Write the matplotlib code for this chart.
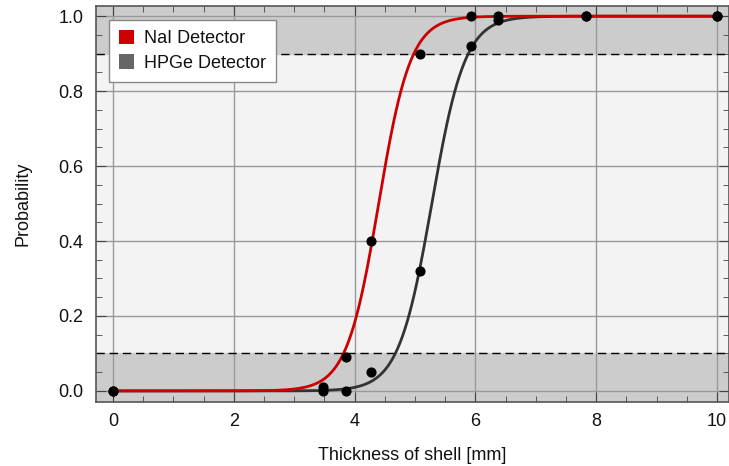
import numpy as np
import matplotlib.pyplot as plt
from matplotlib.patches import Patch

# measured detection probabilities vs shell thickness
thickness = [0.0, 3.47, 3.86, 4.27, 5.08, 5.93, 6.38, 7.83, 10.0]
p_nai = [0.0, 0.01, 0.09, 0.40, 0.90, 1.0, 1.0, 1.0, 1.0]
p_hpge = [0.0, 0.0, 0.0, 0.05, 0.32, 0.92, 0.99, 1.0, 1.0]

labels = ['NaI Detector', 'HPGe Detector']
colors = ['#cc0000', '#333333']
patch_colors = ['#cc0000', '#666666']


def logistic(x, x0, s):
    return 1.0 / (1.0 + np.exp(-(x - x0) / s))


def fit_logistic(x, y):
    # brute force least squares fit
    x = np.asarray(x)
    y = np.asarray(y)
    best = None
    for x0 in np.linspace(3.5, 6.5, 301):
        for s in np.linspace(0.05, 1.0, 191):
            err = np.sum((logistic(x, x0, s) - y) ** 2)
            if best is None or err < best[0]:
                best = (err, x0, s)
    return best[1], best[2]


plt.rcParams['font.family'] = ['Liberation Sans', 'DejaVu Sans']
plt.rcParams['font.size'] = 13

fig = plt.figure(figsize=(7.29, 4.66), dpi=100)
ax = fig.add_axes([0.1317, 0.137, 0.8683, 0.85])
ax.set_facecolor('#f3f3f3')

ax.set_xlim(-0.28, 10.2)
ax.set_ylim(-0.03, 1.027)

# shaded bands outside 10% - 90%
ax.axhspan(-0.1, 0.1, color='#cccccc', zorder=0)
ax.axhspan(0.9, 1.1, color='#cccccc', zorder=0)
ax.axhline(0.1, color='black', lw=1, ls=(0, (6, 3.5)), zorder=1)
ax.axhline(0.9, color='black', lw=1, ls=(0, (6, 3.5)), zorder=1)

ax.grid(True, which='major', color='#999999', lw=1, zorder=0.5)
ax.set_axisbelow(True)

xs = np.linspace(0, 10, 500)
for ys, c, z in [(p_hpge, colors[1], 3), (p_nai, colors[0], 4)]:
    x0, s = fit_logistic(thickness, ys)
    ax.plot(xs, logistic(xs, x0, s), color=c, lw=2, zorder=z)
    ax.plot(thickness, ys, 'o', color='black', ms=6.3, zorder=5, clip_on=False)

ax.set_xticks(np.arange(0, 11, 2))
ax.set_xticks(np.arange(0, 10.3, 0.5), minor=True)
ax.set_yticks(np.arange(0, 1.01, 0.2))
ax.set_yticks(np.arange(0, 1.01, 0.05), minor=True)
ax.yaxis.set_major_formatter(plt.FormatStrFormatter('%.1f'))
ax.tick_params(which='both', direction='in', top=True, right=True,
               color='#444444', labelsize=13, labelcolor='#111111')
ax.tick_params(axis='y', pad=9)
ax.tick_params(axis='x', pad=8)
ax.tick_params(which='major', length=7)
ax.tick_params(which='minor', length=4)
for sp in ax.spines.values():
    sp.set_color('#555555')
    sp.set_linewidth(1.2)

ax.set_xlabel('Thickness of shell [mm]', fontsize=13, labelpad=12, color='#111111')
ax.set_ylabel('Probability', fontsize=13, labelpad=19, color='#111111')

handles = [Patch(facecolor=c, label=l) for c, l in zip(patch_colors, labels)]
leg = ax.legend(handles=handles, loc='upper left', bbox_to_anchor=(0.02, 0.965),
                fancybox=False, framealpha=1, edgecolor='#888888',
                handlelength=0.85, handleheight=0.85, handletextpad=0.55,
                fontsize=13, borderpad=0.55, labelspacing=0.38, borderaxespad=0)
leg.get_frame().set_linewidth(1)
for t in leg.get_texts():
    t.set_color('#111111')

fig.savefig('out.png', dpi=100)
